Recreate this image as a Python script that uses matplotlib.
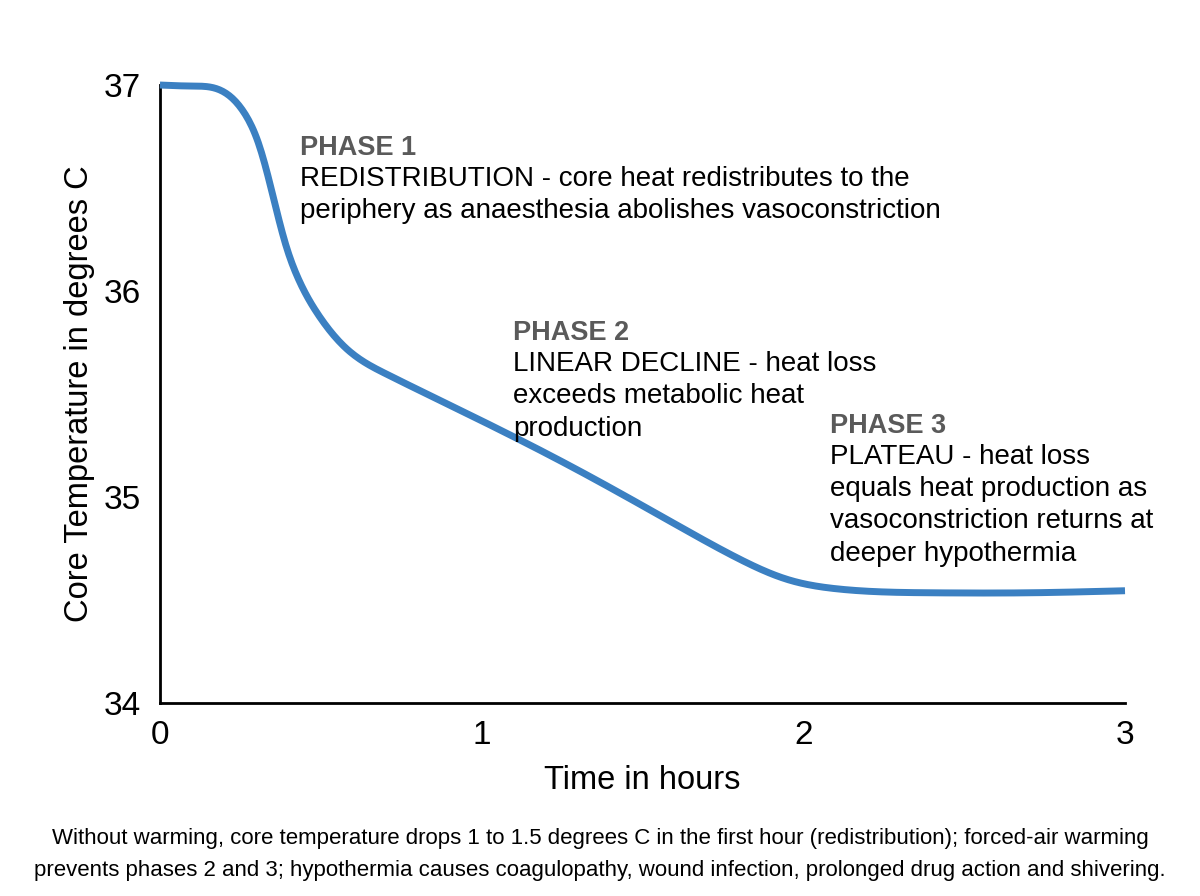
import numpy as np
import matplotlib.pyplot as plt

plt.rcParams['font.family'] = ['Liberation Sans', 'DejaVu Sans']

# curve
hours = [0.0, 0.10, 0.18, 0.26, 0.31, 0.35, 0.39, 0.43, 0.49, 0.58, 0.70,
         1.00, 1.30, 1.60, 1.80, 1.95, 2.10, 2.40, 2.70, 3.0]
temp = [37.0, 36.995, 36.98, 36.87, 36.70, 36.47, 36.23, 36.06, 35.89, 35.72, 35.60,
        35.37, 35.13, 34.87, 34.70, 34.60, 34.555, 34.535, 34.535, 34.545]

xticks = [0, 1, 2, 3]
yticks = [34, 35, 36, 37]

phases = [
    (0.435, 36.66, "PHASE 1",
     ["REDISTRIBUTION - core heat redistributes to the",
      "periphery as anaesthesia abolishes vasoconstriction"]),
    (1.097, 35.76, "PHASE 2",
     ["LINEAR DECLINE - heat loss", "exceeds metabolic heat", "production"]),
    (2.083, 35.31, "PHASE 3",
     ["PLATEAU - heat loss", "equals heat production as",
      "vasoconstriction returns at", "deeper hypothermia"]),
]

caption = ("Without warming, core temperature drops 1 to 1.5 degrees C in the first hour "
           "(redistribution); forced-air warming\nprevents phases 2 and 3; hypothermia causes "
           "coagulopathy, wound infection, prolonged drug action and shivering.")


def natural_spline(x, y, xs):
    x = np.asarray(x, float)
    y = np.asarray(y, float)
    n = len(x)
    h = np.diff(x)
    A = np.zeros((n, n))
    b = np.zeros(n)
    A[0, 0] = A[-1, -1] = 1
    for i in range(1, n - 1):
        A[i, i - 1] = h[i - 1]
        A[i, i] = 2 * (h[i - 1] + h[i])
        A[i, i + 1] = h[i]
        b[i] = 3 * ((y[i + 1] - y[i]) / h[i] - (y[i] - y[i - 1]) / h[i - 1])
    c = np.linalg.solve(A, b)
    bb = (y[1:] - y[:-1]) / h - h * (2 * c[:-1] + c[1:]) / 3
    d = (c[1:] - c[:-1]) / (3 * h)
    idx = np.clip(np.searchsorted(x, xs) - 1, 0, n - 2)
    dx = xs - x[idx]
    return y[idx] + bb[idx] * dx + c[idx] * dx**2 + d[idx] * dx**3


fig = plt.figure(figsize=(12, 8.96), dpi=100)
ax = fig.add_axes([0.1333, 0.2154, 0.8042, 0.6897])

xs = np.linspace(0, 3, 600)
ys = natural_spline(hours, temp, xs)
ax.plot(xs, ys, color='#3b80c2', linewidth=5, solid_capstyle='butt', clip_on=False, zorder=3)

ax.set_xlim(0, 3)
ax.set_ylim(34, 37)
ax.set_xticks(xticks)
ax.set_yticks(yticks)
ax.tick_params(length=0, labelsize=24)
ax.tick_params(axis='y', pad=14)
ax.tick_params(axis='x', pad=12)
for side in ['top', 'right']:
    ax.spines[side].set_visible(False)
for side in ['left', 'bottom']:
    ax.spines[side].set_linewidth(2)

ax.set_xlabel("Time in hours", fontsize=23.5, labelpad=10)
ax.set_ylabel("Core Temperature in degrees C", fontsize=23.5, labelpad=6)

for x0, y0, head, lines in phases:
    ax.text(x0, y0, head, fontsize=19.5, fontweight='bold', color='#5a5a5a', va='baseline')
    for k, line in enumerate(lines):
        ax.annotate(line, (x0, y0), xytext=(0, -22 - 23.3 * k), textcoords='offset points',
                    fontsize=20, color='black', va='baseline')

fig.text(0.5, 0.046, caption, ha='center', va='center', fontsize=16, linespacing=1.68)

fig.savefig('out.png', dpi=100)
